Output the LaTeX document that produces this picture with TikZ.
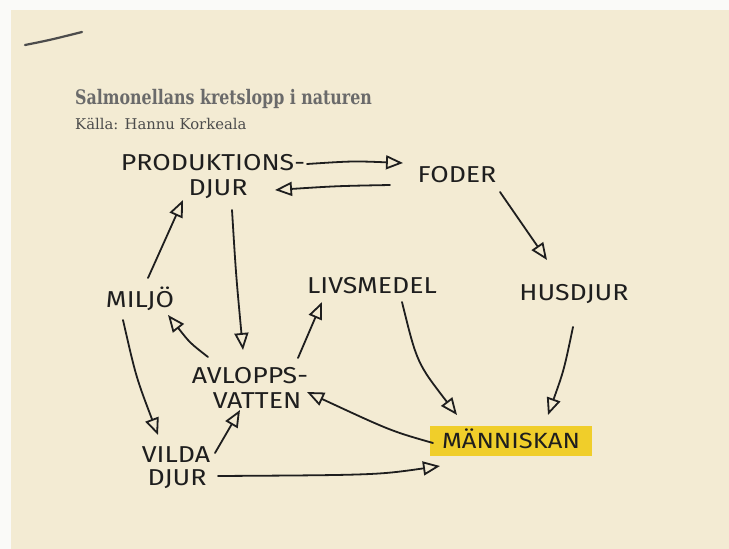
\documentclass[tikz,border=0pt]{standalone}
\usepackage{fontspec}
\usetikzlibrary{arrows.meta,calc}
\newfontfamily\handfont[FakeStretch=1.16]{Fira Sans}
\newfontfamily\slabfont[FakeStretch=0.88]{DejaVu Serif Condensed}
\newfontfamily\slabtext{DejaVu Serif}
\definecolor{paper}{HTML}{F3EBD3}
\definecolor{outside}{HTML}{FAFAF8}
\definecolor{ink}{HTML}{1E1E1E}
\definecolor{marker}{HTML}{F0CE2A}
\definecolor{titlegrey}{HTML}{6A6A6A}
\definecolor{subgrey}{HTML}{4C4C4C}
\begin{document}
\begin{tikzpicture}[x=1pt,y=-1pt,
  lab/.style={font=\handfont\fontsize{23}{26}\selectfont, text=ink, inner sep=0pt, anchor=base},
  arr/.style={draw=ink, line width=1.8pt, line cap=round,
    -{Triangle[open,length=17pt,width=14pt,line width=1.8pt]}},
]
\useasboundingbox (0,0) rectangle (729,549);
\fill[outside] (0,0) rectangle (729,549);
\fill[paper] (11,10) rectangle (729,549);
% stray pen stroke
\draw[line width=2.2pt, draw=black!70, line cap=round] (25,45) .. controls (50,40) .. (82,32);
% titles
\node[font=\slabfont\bfseries\fontsize{20}{22}\selectfont, text=titlegrey, anchor=base west, inner sep=0pt] (title) at (75,104) {Salmonellans kretslopp i naturen};
\node[font=\slabtext\fontsize{14.8}{17}\selectfont, text=subgrey, anchor=base west, inner sep=0pt] (source) at (75,129) {Källa: Hannu Korkeala};
% labels
\node[lab] (prod)  at (213,170) {PRODUKTIONS-};
\node[lab] (prodd) at (218,195) {DJUR};
\node[lab] (foder) at (457,182) {FODER};
\node[lab] (hus)   at (574,300) {HUSDJUR};
\node[lab] (livs)  at (372,293) {LIVSMEDEL};
\node[lab] (miljo) at (140,307) {MILJÖ};
\node[lab] (avl)   at (250,383) {AVLOPPS-};
\node[lab] (vatten) at (257,408) {VATTEN};
\node[lab] (vilda) at (176,462) {VILDA};
\node[lab] (vildad) at (177,485) {DJUR};
\node[font=\handfont\fontsize{22}{26}\selectfont, text=ink, fill=marker, minimum width=162pt, minimum height=30pt, inner sep=0pt, text height=15pt, text depth=0pt] (man) at (511,441) {MÄNNISKAN};
% connectors
\draw[arr] ($(prod.base)+(94,-6)$) .. controls ($(prod.base)+(140,-9)$) .. ($(foder.base)+(-54,-19)$);
\draw[arr] ($(foder.base)+(-67,3)$) .. controls ($(foder.base)+(-120,4)$) .. ($(prodd.base)+(57,-5)$);
\draw[arr] ($(foder.base)+(43,10)$) -- ($(hus.base)+(-27,-40)$);
\draw[arr] ($(miljo.base)+(8,-29)$) -- ($(prodd.base)+(-35,5)$);
\draw[arr] ($(prodd.base)+(14,15)$) .. controls ($(prodd.base)+(18,80)$) .. ($(avl.base)+(-7,-33)$);
\draw[arr] ($(avl.base)+(-42,-26)$) .. controls ($(avl.base)+(-60,-40)$) .. ($(miljo.base)+(28,8)$);
\draw[arr] ($(avl.base)+(48,-25)$) -- ($(livs.base)+(-50,9)$);
\draw[arr] ($(miljo.base)+(-17,13)$) .. controls ($(miljo.base)+(-4,70)$) .. ($(vilda.base)+(-18,-27)$);
\draw[arr] ($(vilda.base)+(39,-9)$) -- ($(vatten.base)+(-17,2)$);
\draw[arr] ($(man.center)+(-78,2)$) .. controls ($(man.center)+(-120,-10)$) .. ($(vatten.base)+(50,-16)$);
\draw[arr] ($(livs.base)+(30,9)$) .. controls ($(livs.base)+(45,70)$) .. ($(man.center)+(-54,-26)$);
\draw[arr] ($(hus.base)+(-1,27)$) .. controls ($(hus.base)+(-10,70)$) .. ($(man.center)+(37,-26)$);
\draw[arr] ($(vildad.base)+(41,-9)$) .. controls ($(vildad.base)+(200,-10)$) .. ($(man.center)+(-71,25)$);
\end{tikzpicture}
\end{document}
